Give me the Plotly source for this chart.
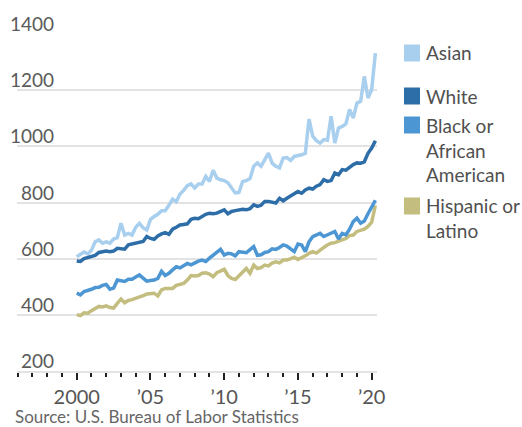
import plotly.graph_objects as go

start_year = 2000
asian = [607, 615, 624, 617, 630, 660, 667, 655, 660, 655, 670, 675, 726, 684, 690, 684,
         712, 726, 710, 702, 740, 750, 758, 771, 771, 790, 812, 803, 830, 843, 860, 866,
         852, 866, 866, 893, 875, 915, 887, 881, 878, 870, 850, 834, 836, 875, 878, 885,
         929, 941, 929, 950, 976, 940, 929, 923, 958, 960, 950, 964, 966, 970, 975, 1097,
         1036, 1020, 1012, 1024, 1022, 1107, 1012, 1065, 1071, 1080, 1131, 1101, 1154, 1160,
         1249, 1172, 1202, 1332]
white = [592, 590, 600, 605, 608, 612, 622, 626, 627, 625, 627, 637, 635, 634, 649, 652,
         657, 658, 661, 679, 672, 669, 681, 688, 693, 687, 705, 712, 720, 722, 724, 740,
         744, 742, 750, 758, 762, 760, 762, 768, 774, 760, 768, 771, 773, 776, 774, 778,
         792, 786, 790, 804, 804, 800, 798, 815, 806, 815, 824, 830, 839, 833, 845, 851,
         848, 858, 864, 881, 875, 878, 905, 899, 917, 915, 925, 935, 941, 940, 945, 975,
         994, 1020]
black = [477, 471, 483, 486, 491, 497, 498, 505, 508, 491, 495, 524, 520, 519, 527, 527,
         535, 542, 531, 520, 522, 524, 530, 555, 540, 548, 560, 571, 567, 575, 583, 578,
         585, 591, 595, 590, 602, 612, 625, 633, 613, 619, 617, 610, 625, 624, 621, 632,
         643, 612, 614, 622, 625, 635, 633, 640, 649, 645, 635, 625, 652, 649, 625, 660,
         678, 685, 690, 679, 686, 692, 697, 670, 690, 685, 705, 732, 744, 726, 734, 760,
         782, 808]
hispanic = [401, 397, 407, 406, 415, 424, 430, 428, 432, 426, 424, 441, 456, 443, 451, 454,
            458, 463, 468, 474, 477, 477, 467, 489, 494, 495, 494, 505, 508, 512, 524, 540,
            538, 540, 548, 550, 545, 536, 550, 556, 562, 540, 530, 526, 540, 555, 565, 548,
            577, 565, 568, 577, 574, 584, 589, 585, 595, 595, 600, 605, 597, 603, 610, 619,
            625, 620, 631, 640, 649, 655, 657, 662, 667, 672, 682, 684, 697, 700, 705, 715,
            730, 790]

x_vals = [start_year + i / 4 for i in range(len(asian))]

series_names = ["Asian", "White", "Black or<br>African<br>American", "Hispanic or<br>Latino"]
series_colors = ["#a9cfee", "#2e6ea8", "#4c97d3", "#c3bd7f"]
draw_order = [0, 1, 3, 2]  # Black drawn above Hispanic

y_ticks = [200, 400, 600, 800, 1000, 1200, 1400]
x_tickvals = [2000, 2005, 2010, 2015, 2020]
x_ticktext = ["2000", "\u201905", "\u201910", "\u201915", "\u201920"]

FONT = "Lato"
W, H = 522, 427
L, R, T, B = 17, 145, 34, 56
pw, ph = W - L - R, H - T - B

def px_x(p):
    return (p - L) / pw

def px_y(p):
    return (H - B - p) / ph

fig = go.Figure()
vals_by_name = {0: asian, 1: white, 2: black, 3: hispanic}
for idx in draw_order:
    fig.add_trace(go.Scatter(
        x=x_vals, y=vals_by_name[idx], mode="lines",
        line=dict(color=series_colors[idx], width=3.5),
        hoverinfo="skip", showlegend=False))

annotations = []
for v in y_ticks:
    annotations.append(dict(
        x=px_x(56), xref="paper", y=v, yref="y", text=str(v),
        xanchor="right", yanchor="bottom", showarrow=False, yshift=-3,
        font=dict(family=FONT, size=19, color="#5a5a5a")))

shapes = []
legend_pos = [(53, 53), (96, 96), (125, 150), (206, 218)]  # swatch center, text center
for i, name in enumerate(series_names):
    sw_c, txt_c = legend_pos[i]
    shapes.append(dict(type="rect", xref="paper", yref="paper",
                       x0=px_x(404), x1=px_x(420), y0=px_y(sw_c + 8.5), y1=px_y(sw_c - 8.5),
                       fillcolor=series_colors[i], line=dict(width=0)))
    annotations.append(dict(
        x=px_x(424), xref="paper", y=px_y(txt_c), yref="paper", text=name,
        xanchor="left", yanchor="middle", align="left", showarrow=False,
        font=dict(family=FONT, size=19, color="#505050")))

annotations.append(dict(
    x=px_x(13), xref="paper", y=px_y(416), yref="paper",
    text="Source: U.S. Bureau of Labor Statistics",
    xanchor="left", yanchor="middle", showarrow=False,
    font=dict(family=FONT, size=17, color="#666666")))

fig.update_layout(
    width=W, height=H,
    margin=dict(l=L, r=R, t=T, b=B, pad=0),
    plot_bgcolor="white", paper_bgcolor="white",
    annotations=annotations, shapes=shapes,
    xaxis=dict(range=[1995.95, 2020.36], showgrid=False, zeroline=False,
               tickmode="array", tickvals=x_tickvals, ticktext=x_ticktext,
               ticks="outside", ticklen=7, tickwidth=2, tickcolor="#222222",
               minor=dict(dtick=1, tick0=2000, ticks="outside", ticklen=4,
                          tickwidth=2, tickcolor="#222222", showgrid=False),
               showline=True, linecolor="#e3e3e3", linewidth=2,
               tickfont=dict(family=FONT, size=20, color="#555555")),
    yaxis=dict(range=[200, 1400], tickvals=y_ticks, showticklabels=False,
               showgrid=True, gridcolor="#e3e3e3", gridwidth=2, zeroline=False,
               ticks=""),
)

fig.write_html("out.html")
